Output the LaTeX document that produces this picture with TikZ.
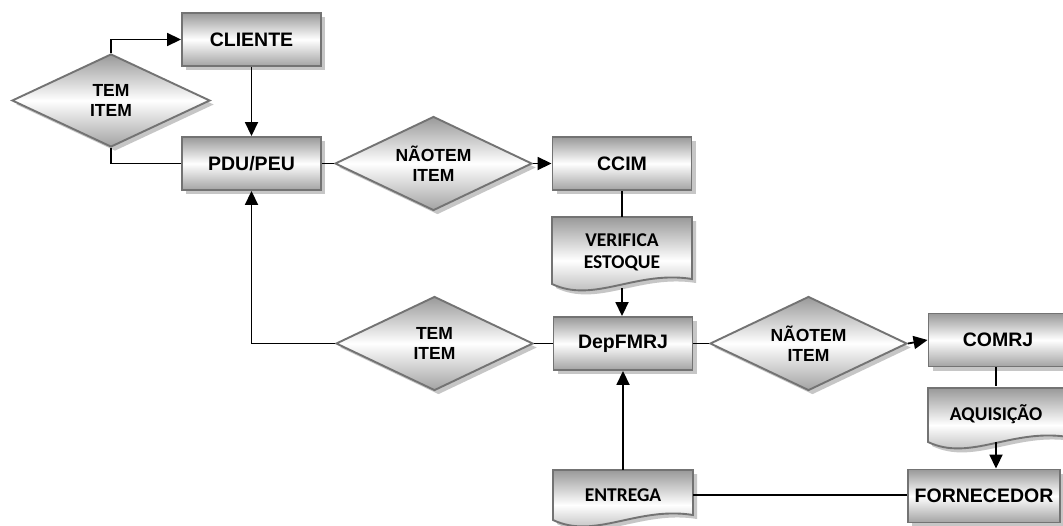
\documentclass[tikz,border=0pt]{standalone}
\usepackage{fontspec}
\setmainfont{Liberation Sans}
\newfontfamily\calib{Carlito}
\usetikzlibrary{shapes.geometric,shadows,arrows.meta}
\tikzset{
 shd/.style={drop shadow={shadow xshift=4pt,shadow yshift=-4pt,fill=gray!45,opacity=1}},
 grad/.style={top color=gray!80, bottom color=gray!72, middle color=white, draw=black!55, line width=1.9pt},
 procbox/.style={shape=rectangle, grad, shd, minimum width=139pt, minimum height=53pt, inner sep=0pt, font=\bfseries\fontsize{19.5}{22}\selectfont},
 decbox/.style={shape=diamond, grad, shd, minimum width=197pt, minimum height=94pt, shape aspect=2, inner sep=0pt, align=center, font=\bfseries\fontsize{17.5}{20}\selectfont},
 docbg/.style={grad, shd},
 doclabel/.style={inner sep=0pt, align=center, font=\calib\bfseries\fontsize{19.5}{22}\selectfont},
 conn/.style={line width=1.8pt, draw=black},
 arr/.style={conn, -{Triangle[length=14pt,width=13pt]}},
}
\newcommand\docshape[4]{%
 \path[docbg] (#1,#2) -- ({#1+#3},#2) -- ({#1+#3},{#2+#4-5}) .. controls ({#1+0.6*#3},{#2+#4-14}) and ({#1+0.3*#3},{#2+#4+20}) .. (#1,{#2+#4}) -- cycle;}
\begin{document}
\begin{tikzpicture}[x=1pt,y=-1pt]
\useasboundingbox (0,0) rectangle (1063,525);
\clip (0,0) rectangle (1063,525);
\fill[white] (0,0) rectangle (1063,525);
% nodes
\node[procbox] (cli) at (251.5,39.5) {CLIENTE};
\node[procbox] (pdu) at (251.5,163.5) {PDU/PEU};
\node[decbox, minimum width=198pt, minimum height=93pt] (d1) at (111,100.5) {TEM\\ITEM};
\node[decbox] (n1) at (433.5,163.5) {NÃOTEM\\ITEM};
\node[procbox] (ccim) at (622,163.5) {CCIM};
\docshape{552}{217}{140}{67}
\node[doclabel, minimum width=140pt, minimum height=71pt] (ver) at (622,252.5) {VERIFICA\\ESTOQUE};
\node[procbox] (dep) at (623,343.5) {DepFMRJ};
\node[decbox] (t2) at (434.5,343.5) {TEM\\ITEM};
\node[decbox] (n2) at (808.5,343.5) {NÃOTEM\\ITEM};
\node[procbox] (com) at (998,340) {COMRJ};
\docshape{928}{388}{140}{54}
\node[doclabel, minimum width=140pt, minimum height=56pt] (aq) at (996,414) {AQUISIÇÃO};
\node[procbox, minimum width=152pt] (forn) at (984,496) {FORNECEDOR};
\docshape{553}{470}{140}{50}
\node[doclabel, minimum width=140pt, minimum height=50pt] (ent) at (623,495) {ENTREGA};
% connectors
\draw[arr] (cli) -- (pdu);
\draw[arr] (d1.north) |- (cli.west);
\draw[conn] (d1.south) |- (pdu.west);
\draw[conn] (pdu.east) -- (n1.west);
\draw[arr] (n1.east) -- (ccim.west);
\draw[conn] (ccim.south) -- (ver.north);
\draw[arr] (ver.south) -- (ver.south |- dep.north);
\draw[conn] (dep.west) -- (t2.east);
\draw[arr] (t2.west) -| (pdu.south);
\draw[conn] (dep.east) -- (n2.west);
\draw[arr] (n2.east) -- (com.west);
\draw[conn] (com.south -| aq.north) -- (aq.north);
\draw[arr] (aq.south) -- (aq.south |- forn.north);
\draw[conn] (ent.east) -- (ent.east -| forn.west);
\draw[arr] (ent.north) -- (dep.south);
\end{tikzpicture}
\end{document}
